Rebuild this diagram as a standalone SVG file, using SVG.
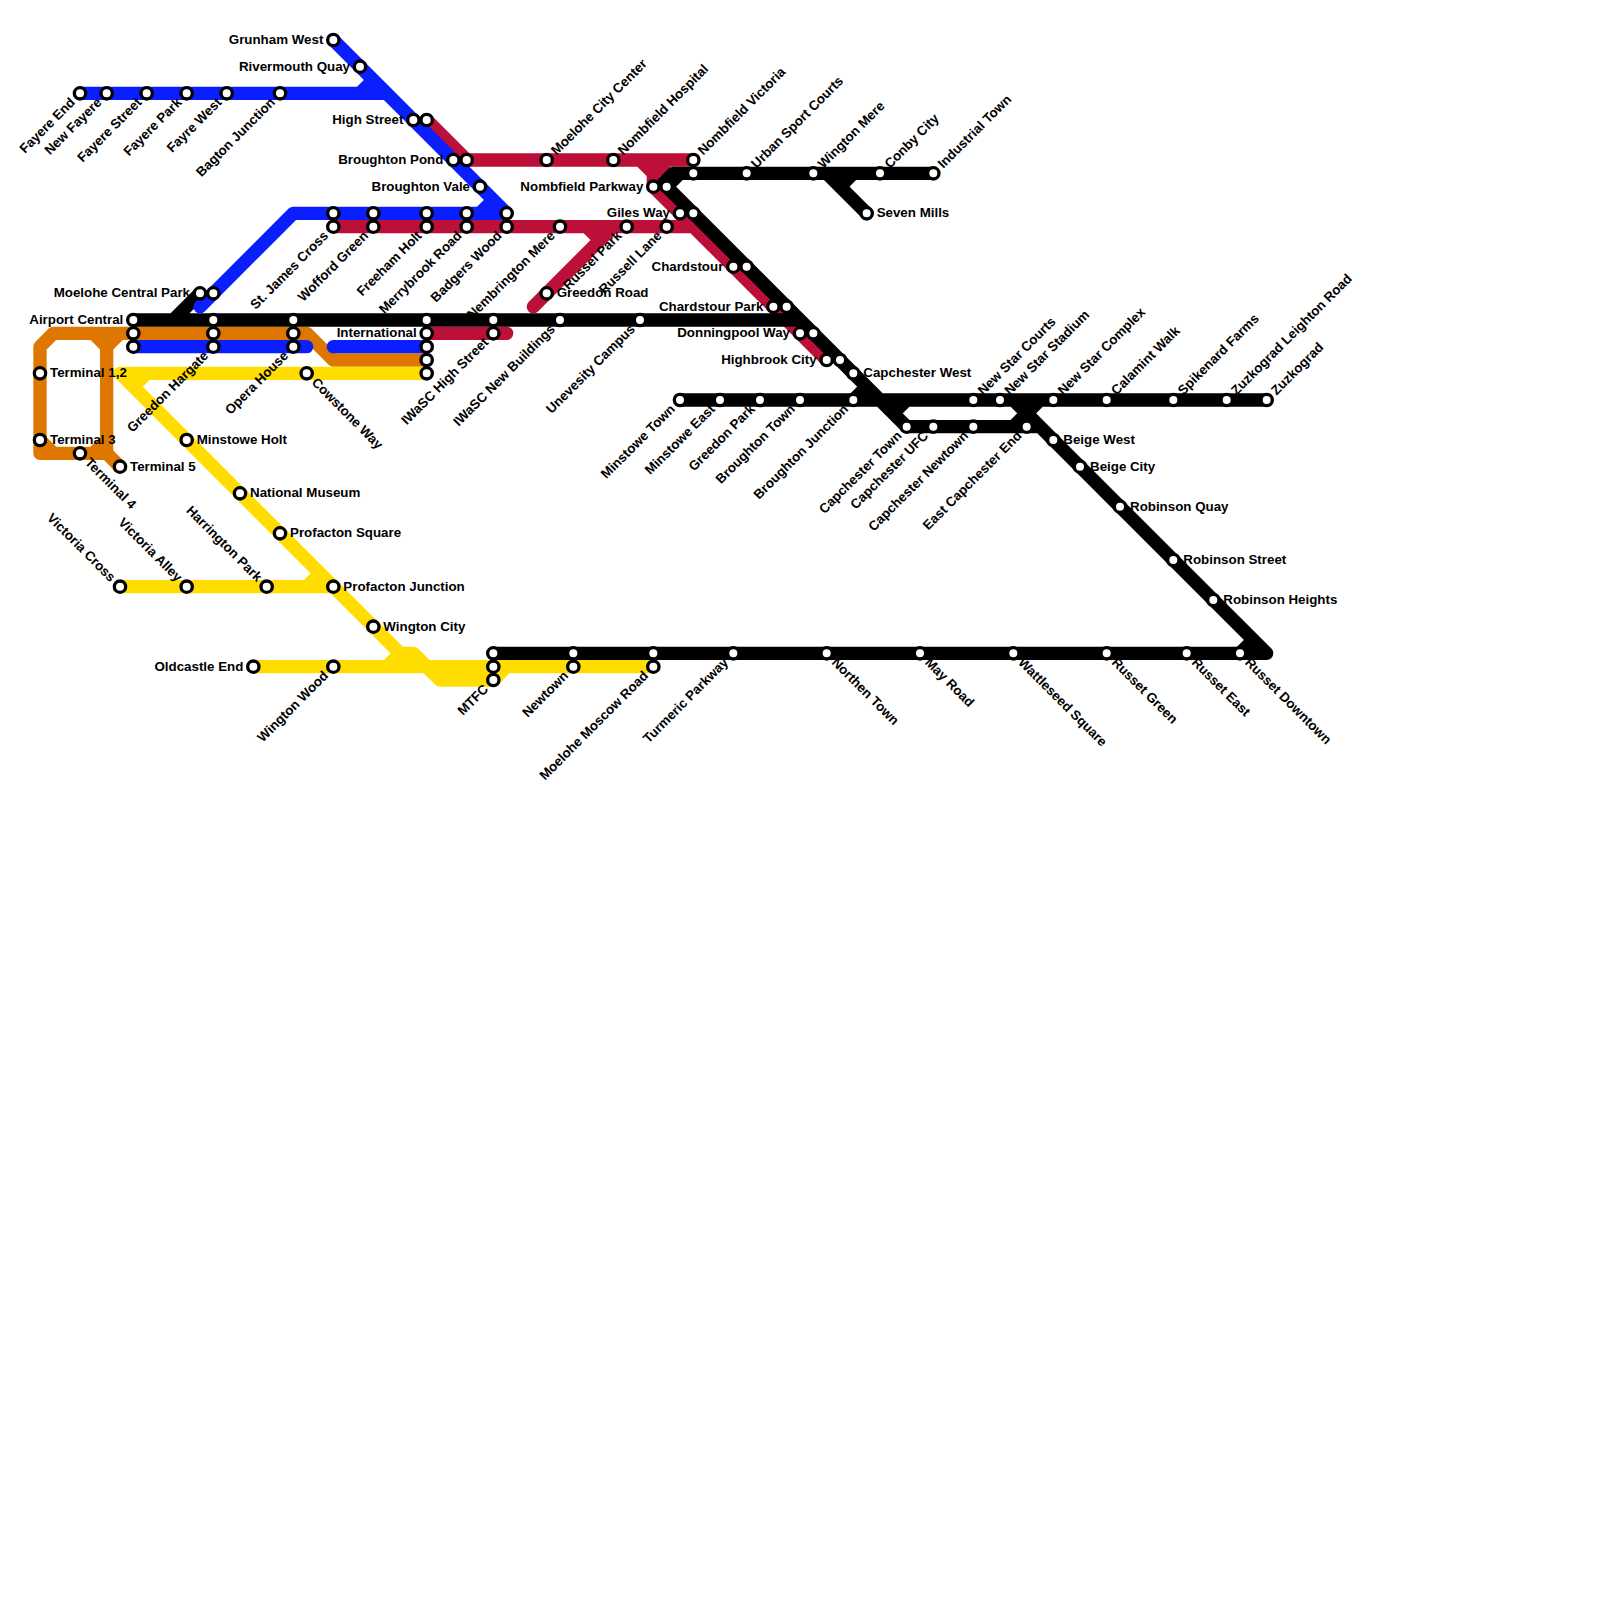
<svg xmlns="http://www.w3.org/2000/svg" width="1600" height="1600" viewBox="0 0 1600 1600">
<style>
.l{fill:none;stroke-width:1;stroke-linecap:round;stroke-linejoin:round}
.b{stroke:#0a1eff}.c{stroke:#bd1038}.o{stroke:#dd7700}.y{stroke:#ffdd00}.k{stroke:#000}
.s circle{fill:#fff;stroke:#000;stroke-width:.25;r:.425px}
text{font-family:"Liberation Sans",Arial,sans-serif;font-weight:700;font-size:13.33px;fill:#000}
.e{text-anchor:end}
</style>
<rect width="1600" height="1600" fill="#fff"/>
<g id="connectors" transform="scale(13.33333)">
<path class="l c" d="M32 9L35 12H52M48 12L49 13V14L62 27M49 12L50 13M25 17H52M44 17L45 18M46 17L40 23M32 25H38"/>
<path class="l o" d="M32 27H25L23 25H4L3 26V34H8L9 35M3 33L4 34M7 25L8 26V33L7 34M8 26L9 25M8 33V34"/>
<path class="l y" d="M9 28H32M9 28L30 49H31L33 51H37L38 50M10 29L11 28M9 44H25M23 44L24 43M19 50H49M29 50L30 49"/>
<path class="l k" d="M10 24H60M13 24L15 22M50 14L51 13H70M49.75 13.75L50.5 13H51M62 13L65 16M64 13L63 14M50 14L68 32H78M64 30L65 29M67 31L68 30M51 30H95M76 32L78 30M76 30L95 49H37M93 49L94 48"/>
<path class="l b" d="M6 7H29M27 7L28 6M25 3L38 16H22L15 23M36 16L37 15M10 26H23M25 26H32"/>
</g>
<g class="s" transform="scale(13.33333)">
<g id="fayere-end"><circle cx="6" cy="7"/></g>
<g id="new-fayere"><circle cx="8" cy="7"/></g>
<g id="fayere-street"><circle cx="11" cy="7"/></g>
<g id="fayere-park"><circle cx="14" cy="7"/></g>
<g id="fayre-west"><circle cx="17" cy="7"/></g>
<g id="bagton-junction"><circle cx="21" cy="7"/></g>
<g id="grunham-west"><circle cx="25" cy="3"/></g>
<g id="rivermouth-quay"><circle cx="27" cy="5"/></g>
<g id="high-street"><circle cx="31" cy="9"/><circle cx="32" cy="9"/></g>
<g id="broughton-pond"><circle cx="34" cy="12"/><circle cx="35" cy="12"/></g>
<g id="broughton-vale"><circle cx="36" cy="14"/></g>
<g id="st-james-cross"><circle cx="25" cy="16"/><circle cx="25" cy="17"/></g>
<g id="wofford-green"><circle cx="28" cy="16"/><circle cx="28" cy="17"/></g>
<g id="freeham-holt"><circle cx="32" cy="16"/><circle cx="32" cy="17"/></g>
<g id="merrybrook-road"><circle cx="35" cy="16"/><circle cx="35" cy="17"/></g>
<g id="badgers-wood"><circle cx="38" cy="16"/><circle cx="38" cy="17"/></g>
<g id="moelohe-central-park"><circle cx="15" cy="22"/><circle cx="16" cy="22"/></g>
<g id="airport-central"><circle cx="10" cy="24"/><circle cx="10" cy="25"/><circle cx="10" cy="26"/></g>
<g id="greedon-hargate"><circle cx="16" cy="24"/><circle cx="16" cy="25"/><circle cx="16" cy="26"/></g>
<g id="opera-house"><circle cx="22" cy="24"/><circle cx="22" cy="25"/><circle cx="22" cy="26"/></g>
<g id="international"><circle cx="32" cy="24"/><circle cx="32" cy="25"/><circle cx="32" cy="26"/><circle cx="32" cy="27"/><circle cx="32" cy="28"/></g>
<g id="iwasc-high-street"><circle cx="37" cy="24"/><circle cx="37" cy="25"/></g>
<g id="cowstone-way"><circle cx="23" cy="28"/></g>
<g id="terminal-12"><circle cx="3" cy="28"/></g>
<g id="terminal-3"><circle cx="3" cy="33"/></g>
<g id="terminal-4"><circle cx="6" cy="34"/></g>
<g id="terminal-5"><circle cx="9" cy="35"/></g>
<g id="minstowe-holt"><circle cx="14" cy="33"/></g>
<g id="national-museum"><circle cx="18" cy="37"/></g>
<g id="profacton-square"><circle cx="21" cy="40"/></g>
<g id="profacton-junction"><circle cx="25" cy="44"/></g>
<g id="wington-city"><circle cx="28" cy="47"/></g>
<g id="victoria-cross"><circle cx="9" cy="44"/></g>
<g id="victoria-alley"><circle cx="14" cy="44"/></g>
<g id="harrington-park"><circle cx="20" cy="44"/></g>
<g id="oldcastle-end"><circle cx="19" cy="50"/></g>
<g id="wington-wood"><circle cx="25" cy="50"/></g>
<g id="mtfc"><circle cx="37" cy="49"/><circle cx="37" cy="50"/><circle cx="37" cy="51"/></g>
<g id="newtown"><circle cx="43" cy="49"/><circle cx="43" cy="50"/></g>
<g id="moelohe-moscow-road"><circle cx="49" cy="49"/><circle cx="49" cy="50"/></g>
<g id="turmeric-parkway"><circle cx="55" cy="49"/></g>
<g id="northen-town"><circle cx="62" cy="49"/></g>
<g id="may-road"><circle cx="69" cy="49"/></g>
<g id="wattleseed-square"><circle cx="76" cy="49"/></g>
<g id="russet-green"><circle cx="83" cy="49"/></g>
<g id="russet-east"><circle cx="89" cy="49"/></g>
<g id="russet-downtown"><circle cx="93" cy="49"/></g>
<g id="robinson-heights"><circle cx="91" cy="45"/></g>
<g id="robinson-street"><circle cx="88" cy="42"/></g>
<g id="robinson-quay"><circle cx="84" cy="38"/></g>
<g id="beige-city"><circle cx="81" cy="35"/></g>
<g id="beige-west"><circle cx="79" cy="33"/></g>
<g id="east-capchester-end"><circle cx="77" cy="32"/></g>
<g id="new-star-complex"><circle cx="79" cy="30"/></g>
<g id="calamint-walk"><circle cx="83" cy="30"/></g>
<g id="spikenard-farms"><circle cx="88" cy="30"/></g>
<g id="zuzkograd-leighton-road"><circle cx="92" cy="30"/></g>
<g id="zuzkograd"><circle cx="95" cy="30"/></g>
<g id="new-star-courts"><circle cx="73" cy="30"/></g>
<g id="new-star-stadium"><circle cx="75" cy="30"/></g>
<g id="capchester-newtown"><circle cx="73" cy="32"/></g>
<g id="capchester-ufc"><circle cx="70" cy="32"/></g>
<g id="capchester-town"><circle cx="68" cy="32"/></g>
<g id="broughton-junction"><circle cx="64" cy="30"/></g>
<g id="capchester-west"><circle cx="64" cy="28"/></g>
<g id="highbrook-city"><circle cx="62" cy="27"/><circle cx="63" cy="27"/></g>
<g id="donningpool-way"><circle cx="60" cy="25"/><circle cx="61" cy="25"/></g>
<g id="chardstour-park"><circle cx="58" cy="23"/><circle cx="59" cy="23"/></g>
<g id="chardstour"><circle cx="55" cy="20"/><circle cx="56" cy="20"/></g>
<g id="broughton-town"><circle cx="60" cy="30"/></g>
<g id="greedon-park"><circle cx="57" cy="30"/></g>
<g id="minstowe-east"><circle cx="54" cy="30"/></g>
<g id="minstowe-town"><circle cx="51" cy="30"/></g>
<g id="moelohe-city-center"><circle cx="41" cy="12"/></g>
<g id="nombfield-hospital"><circle cx="46" cy="12"/></g>
<g id="nombfield-victoria"><circle cx="52" cy="12"/><circle cx="52" cy="13"/></g>
<g id="urban-sport-courts"><circle cx="56" cy="13"/></g>
<g id="wington-mere"><circle cx="61" cy="13"/></g>
<g id="conby-city"><circle cx="66" cy="13"/></g>
<g id="industrial-town"><circle cx="70" cy="13"/></g>
<g id="seven-mills"><circle cx="65" cy="16"/></g>
<g id="nombfield-parkway"><circle cx="49" cy="14"/><circle cx="50" cy="14"/></g>
<g id="giles-way"><circle cx="51" cy="16"/><circle cx="52" cy="16"/></g>
<g id="russel-park"><circle cx="47" cy="17"/></g>
<g id="russell-lane"><circle cx="50" cy="17"/></g>
<g id="nembrington-mere"><circle cx="42" cy="17"/></g>
<g id="greedon-road"><circle cx="41" cy="22"/></g>
<g id="iwasc-new-buildings"><circle cx="42" cy="24"/></g>
<g id="unevesity-campus"><circle cx="48" cy="24"/></g>
</g>
<g id="labels">
<text transform="translate(546.67 160) rotate(-45)" x="10" y="4">Moelohe City Center</text>
<text transform="translate(613.33 160) rotate(-45)" x="10" y="4">Nombfield Hospital</text>
<text transform="translate(693.33 160) rotate(-45)" x="10" y="4">Nombfield Victoria</text>
<text transform="translate(746.67 173.33) rotate(-45)" x="10" y="4">Urban Sport Courts</text>
<text transform="translate(813.33 173.33) rotate(-45)" x="10" y="4">Wington Mere</text>
<text transform="translate(880 173.33) rotate(-45)" x="10" y="4">Conby City</text>
<text transform="translate(933.33 173.33) rotate(-45)" x="10" y="4">Industrial Town</text>
<text transform="translate(973.33 400) rotate(-45)" x="10" y="4">New Star Courts</text>
<text transform="translate(1000 400) rotate(-45)" x="10" y="4">New Star Stadium</text>
<text transform="translate(1053.33 400) rotate(-45)" x="10" y="4">New Star Complex</text>
<text transform="translate(1106.67 400) rotate(-45)" x="10" y="4">Calamint Walk</text>
<text transform="translate(1173.33 400) rotate(-45)" x="10" y="4">Spikenard Farms</text>
<text transform="translate(1226.67 400) rotate(-45)" x="10" y="4">Zuzkograd Leighton Road</text>
<text transform="translate(1266.67 400) rotate(-45)" x="10" y="4">Zuzkograd</text>
<text class="e" transform="translate(80 93.33) rotate(-45)" x="-10" y="4">Fayere End</text>
<text class="e" transform="translate(106.67 93.33) rotate(-45)" x="-10" y="4">New Fayere</text>
<text class="e" transform="translate(146.67 93.33) rotate(-45)" x="-10" y="4">Fayere Street</text>
<text class="e" transform="translate(186.67 93.33) rotate(-45)" x="-10" y="4">Fayere Park</text>
<text class="e" transform="translate(226.67 93.33) rotate(-45)" x="-10" y="4">Fayre West</text>
<text class="e" transform="translate(280 93.33) rotate(-45)" x="-10" y="4">Bagton Junction</text>
<text class="e" transform="translate(333.33 226.67) rotate(-45)" x="-10" y="4">St. James Cross</text>
<text class="e" transform="translate(373.33 226.67) rotate(-45)" x="-10" y="4">Wofford Green</text>
<text class="e" transform="translate(426.67 226.67) rotate(-45)" x="-10" y="4">Freeham Holt</text>
<text class="e" transform="translate(466.67 226.67) rotate(-45)" x="-10" y="4">Merrybrook Road</text>
<text class="e" transform="translate(506.67 226.67) rotate(-45)" x="-10" y="4">Badgers Wood</text>
<text class="e" transform="translate(560 226.67) rotate(-45)" x="-10" y="4">Nembrington Mere</text>
<text class="e" transform="translate(626.67 226.67) rotate(-45)" x="-10" y="4">Russel Park</text>
<text class="e" transform="translate(666.67 226.67) rotate(-45)" x="-10" y="4">Russell Lane</text>
<text class="e" transform="translate(213.33 346.67) rotate(-45)" x="-10" y="4">Greedon Hargate</text>
<text class="e" transform="translate(293.33 346.67) rotate(-45)" x="-10" y="4">Opera House</text>
<text class="e" transform="translate(493.33 333.33) rotate(-45)" x="-10" y="4">IWaSC High Street</text>
<text class="e" transform="translate(560 320) rotate(-45)" x="-10" y="4">IWaSC New Buildings</text>
<text class="e" transform="translate(640 320) rotate(-45)" x="-10" y="4">Unevesity Campus</text>
<text class="e" transform="translate(680 400) rotate(-45)" x="-10" y="4">Minstowe Town</text>
<text class="e" transform="translate(720 400) rotate(-45)" x="-10" y="4">Minstowe East</text>
<text class="e" transform="translate(760 400) rotate(-45)" x="-10" y="4">Greedon Park</text>
<text class="e" transform="translate(800 400) rotate(-45)" x="-10" y="4">Broughton Town</text>
<text class="e" transform="translate(853.33 400) rotate(-45)" x="-10" y="4">Broughton Junction</text>
<text class="e" transform="translate(906.67 426.67) rotate(-45)" x="-10" y="4">Capchester Town</text>
<text class="e" transform="translate(933.33 426.67) rotate(-45)" x="-10" y="4">Capchester UFC</text>
<text class="e" transform="translate(973.33 426.67) rotate(-45)" x="-10" y="4">Capchester Newtown</text>
<text class="e" transform="translate(1026.67 426.67) rotate(-45)" x="-10" y="4">East Capchester End</text>
<text class="e" transform="translate(333.33 666.67) rotate(-45)" x="-10" y="4">Wington Wood</text>
<text class="e" transform="translate(493.33 680) rotate(-45)" x="-10" y="4">MTFC</text>
<text class="e" transform="translate(573.33 666.67) rotate(-45)" x="-10" y="4">Newtown</text>
<text class="e" transform="translate(653.33 666.67) rotate(-45)" x="-10" y="4">Moelohe Moscow Road</text>
<text class="e" transform="translate(733.33 653.33) rotate(-45)" x="-10" y="4">Turmeric Parkway</text>
<text transform="translate(306.67 373.33) rotate(45)" x="10" y="4">Cowstone Way</text>
<text transform="translate(80 453.33) rotate(45)" x="10" y="4">Terminal 4</text>
<text transform="translate(826.67 653.33) rotate(45)" x="10" y="4">Northen Town</text>
<text transform="translate(920 653.33) rotate(45)" x="10" y="4">May Road</text>
<text transform="translate(1013.33 653.33) rotate(45)" x="10" y="4">Wattleseed Square</text>
<text transform="translate(1106.67 653.33) rotate(45)" x="10" y="4">Russet Green</text>
<text transform="translate(1186.67 653.33) rotate(45)" x="10" y="4">Russet East</text>
<text transform="translate(1240 653.33) rotate(45)" x="10" y="4">Russet Downtown</text>
<text class="e" transform="translate(120 586.67) rotate(45)" x="-10" y="4">Victoria Cross</text>
<text class="e" transform="translate(186.67 586.67) rotate(45)" x="-10" y="4">Victoria Alley</text>
<text class="e" transform="translate(266.67 586.67) rotate(45)" x="-10" y="4">Harrington Park</text>
<text class="e" x="323.33" y="44">Grunham West</text>
<text class="e" x="350" y="70.67">Rivermouth Quay</text>
<text class="e" x="403.33" y="124">High Street</text>
<text class="e" x="443.33" y="164">Broughton Pond</text>
<text class="e" x="470" y="190.67">Broughton Vale</text>
<text class="e" x="190" y="297.33">Moelohe Central Park</text>
<text class="e" x="123.33" y="324">Airport Central</text>
<text class="e" x="416.67" y="337.33">International</text>
<text class="e" x="643.33" y="190.67">Nombfield Parkway</text>
<text class="e" x="670" y="217.33">Giles Way</text>
<text class="e" x="723.33" y="270.67">Chardstour</text>
<text class="e" x="763.33" y="310.67">Chardstour Park</text>
<text class="e" x="790" y="337.33">Donningpool Way</text>
<text class="e" x="816.67" y="364">Highbrook City</text>
<text class="e" x="243.33" y="670.67">Oldcastle End</text>
<text x="50" y="377.33">Terminal 1,2</text>
<text x="50" y="444">Terminal 3</text>
<text x="130" y="470.67">Terminal 5</text>
<text x="196.67" y="444">Minstowe Holt</text>
<text x="250" y="497.33">National Museum</text>
<text x="290" y="537.33">Profacton Square</text>
<text x="343.33" y="590.67">Profacton Junction</text>
<text x="383.33" y="630.67">Wington City</text>
<text x="556.67" y="297.33">Greedon Road</text>
<text x="876.67" y="217.33">Seven Mills</text>
<text x="863.33" y="377.33">Capchester West</text>
<text x="1063.33" y="444">Beige West</text>
<text x="1090" y="470.67">Beige City</text>
<text x="1130" y="510.67">Robinson Quay</text>
<text x="1183.33" y="564">Robinson Street</text>
<text x="1223.33" y="604">Robinson Heights</text>
</g>
</svg>
